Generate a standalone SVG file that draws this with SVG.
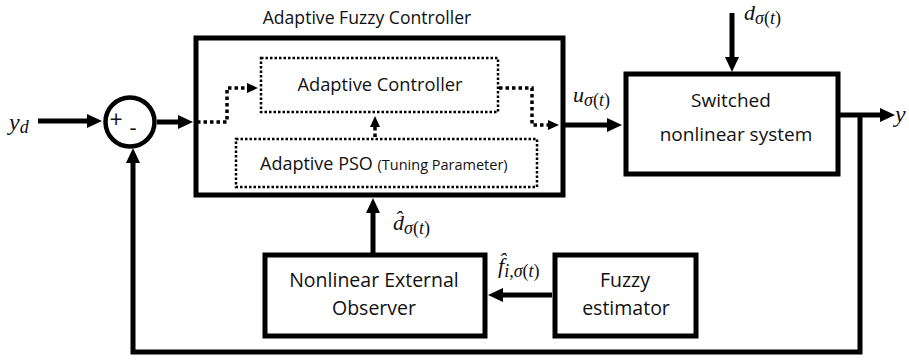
<svg xmlns="http://www.w3.org/2000/svg" width="909" height="360" viewBox="0 0 909 360">
  <style>
    .blk { fill: #fff; stroke: #000; stroke-width: 5; }
    .frame { fill: none; stroke: #000; stroke-width: 5; }
    .dot { fill: none; stroke: #000; stroke-width: 2.5; stroke-dasharray: 2.5 2; }
    .wire { fill: none; stroke: #000; stroke-width: 5; }
    .dwire { fill: none; stroke: #000; stroke-width: 3.5; stroke-dasharray: 3.5 3; }
    .lbl { font-family: "Open Sans", "Noto Sans", sans-serif; fill: #111; text-anchor: middle; }
    .math { font-family: "Liberation Serif", "DejaVu Serif", serif; font-style: italic; fill: #111; }
    .sub { font-size: 18px; }
    .up { font-style: normal; }
  </style>
  <defs>
    <marker id="arr" markerUnits="userSpaceOnUse" markerWidth="16" markerHeight="16" refX="4" refY="8" orient="auto">
      <path d="M0,1 L15,8 L0,15 z" fill="#000"/>
    </marker>
    <marker id="arrs" markerUnits="userSpaceOnUse" markerWidth="12" markerHeight="12" refX="3" refY="6" orient="auto">
      <path d="M0,1 L11,6 L0,11 z" fill="#000"/>
    </marker>
  </defs>

  <rect width="909" height="360" fill="#fff"/>

  <!-- summing junction -->
  <g id="sum">
    <circle cx="130" cy="122" r="24.5" fill="#fff" stroke="#000" stroke-width="4.5"/>
    <text x="116" y="128" class="lbl" font-size="23">+</text>
    <text x="133" y="135" class="lbl" font-size="22">-</text>
  </g>

  <!-- controller block -->
  <g id="adaptive-fuzzy-controller">
    <rect class="frame" x="196" y="38" width="367" height="157"/>
    <text x="367" y="24" class="lbl" font-size="17.6">Adaptive Fuzzy Controller</text>
  </g>
  <g id="adaptive-controller">
    <rect class="dot" x="261" y="58" width="237" height="54"/>
    <text x="380" y="91" class="lbl" font-size="18.3">Adaptive Controller</text>
  </g>
  <g id="adaptive-pso">
    <rect class="dot" x="236" y="139" width="301" height="48"/>
    <text x="260" y="170" font-family="Open Sans, Noto Sans, sans-serif" fill="#111" font-size="18">Adaptive PSO <tspan font-size="14.5">(Tuning Parameter)</tspan></text>
  </g>

  <!-- plant -->
  <g id="plant">
    <rect class="blk" x="626" y="74" width="212" height="100"/>
    <text x="731" y="107" class="lbl" font-size="19">Switched</text>
    <text x="736" y="141" class="lbl" font-size="19">nonlinear system</text>
  </g>

  <!-- observer -->
  <g id="observer">
    <rect class="blk" x="265" y="255" width="220" height="81"/>
    <text x="374" y="287" class="lbl" font-size="19.5">Nonlinear External</text>
    <text x="374" y="315" class="lbl" font-size="19.5">Observer</text>
  </g>

  <!-- fuzzy estimator -->
  <g id="fuzzy-estimator">
    <rect class="blk" x="555" y="255" width="141" height="81"/>
    <text x="625" y="287" class="lbl" font-size="19.5">Fuzzy</text>
    <text x="626" y="315" class="lbl" font-size="19.5">estimator</text>
  </g>

  <!-- connectors -->
  <g id="connectors">
    <!-- reference input into the summing junction -->
    <line class="wire" x1="38" y1="121" x2="91" y2="121" marker-end="url(#arr)"/>
    <!-- error into controller block -->
    <line class="wire" x1="157" y1="122" x2="182" y2="122" marker-end="url(#arr)"/>
    <!-- control signal into plant -->
    <line class="wire" x1="565" y1="125" x2="611" y2="125" marker-end="url(#arr)"/>
    <!-- disturbance -->
    <line class="wire" x1="732" y1="13" x2="732" y2="61" marker-end="url(#arr)"/>
    <!-- plant output -->
    <line class="wire" x1="840" y1="115" x2="884" y2="115" marker-end="url(#arr)"/>
    <!-- feedback loop -->
    <path class="wire" d="M860,115 V352 H133 V159" marker-end="url(#arr)"/>
    <!-- disturbance estimate into controller -->
    <line class="wire" x1="373" y1="253" x2="373" y2="209" marker-end="url(#arr)"/>
    <!-- fuzzy estimate into observer -->
    <line class="wire" x1="552" y1="295" x2="499" y2="295" marker-end="url(#arr)"/>

    <!-- internal dotted paths -->
    <path class="dwire" d="M197,122 H227 V88 H250" marker-end="url(#arrs)"/>
    <path class="dwire" d="M499,88 H532 V125 H551" marker-end="url(#arrs)"/>
    <line class="dwire" x1="375" y1="137" x2="375" y2="124" marker-end="url(#arrs)"/>
  </g>

  <!-- signal labels -->
  <g id="labels">
    <text x="9" y="130" class="math" font-size="24">y<tspan font-size="18" dy="3">d</tspan></text>
    <text x="573" y="102" class="math" font-size="22">u<tspan class="sub" dy="4">σ<tspan class="up">(</tspan>t<tspan class="up">)</tspan></tspan></text>
    <text x="744" y="20" class="math" font-size="22">d<tspan class="sub" dy="4">σ<tspan class="up">(</tspan>t<tspan class="up">)</tspan></tspan></text>
    <text x="895" y="122" class="math" font-size="24">y</text>
    <text x="393" y="230" class="math" font-size="22">d̂<tspan class="sub" dy="4">σ<tspan class="up">(</tspan>t<tspan class="up">)</tspan></tspan></text>
    <text x="498" y="273" class="math" font-size="22">f̂<tspan class="sub" dy="4">i,σ<tspan class="up">(</tspan>t<tspan class="up">)</tspan></tspan></text>
  </g>
</svg>
